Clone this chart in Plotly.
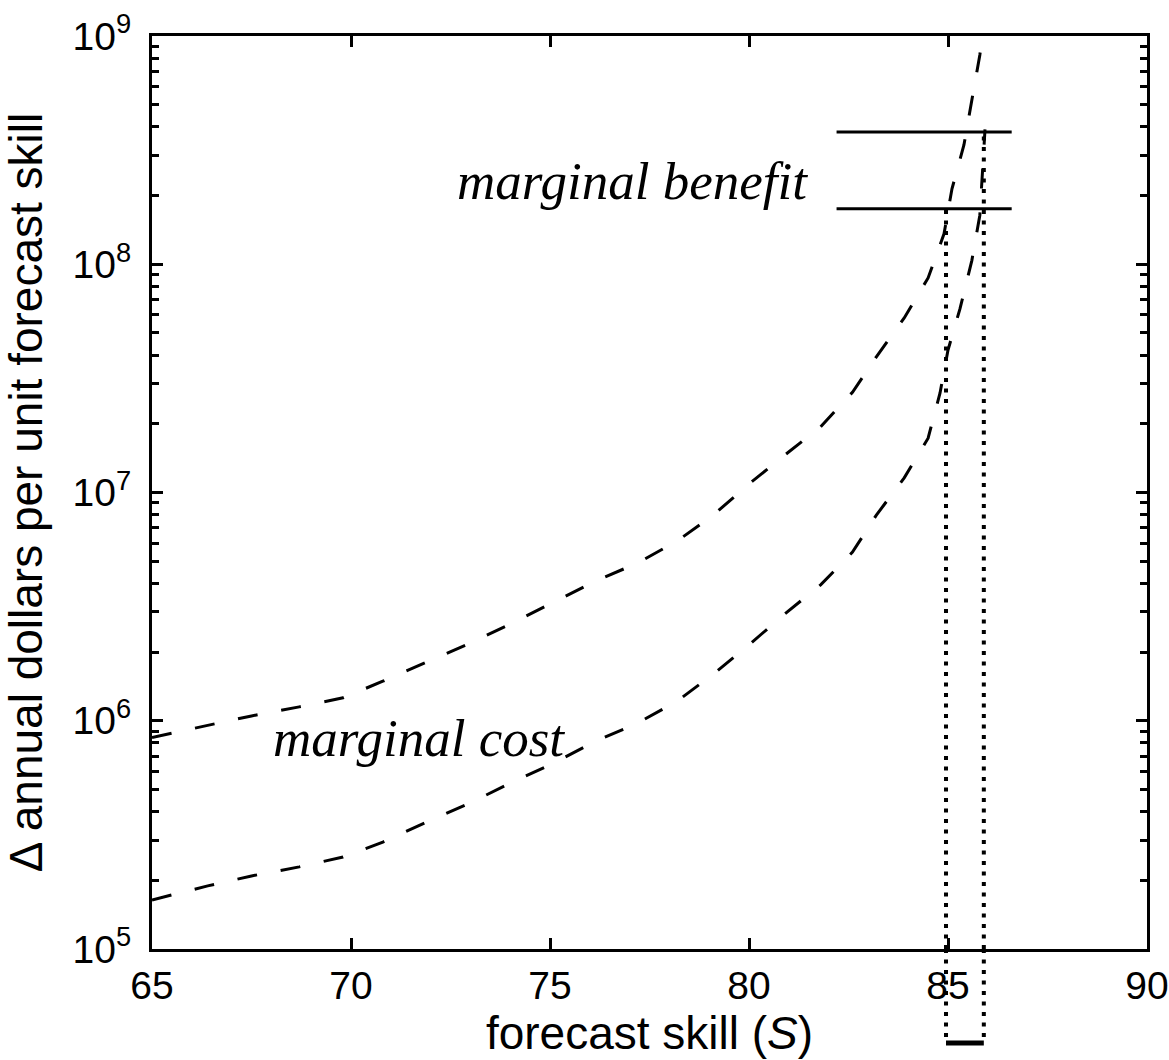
import math
import plotly.graph_objects as go

# Forecast skill S sampled along the two marginal-cost curves
skill_cost_high = [65.0, 65.3, 66.4, 67.5, 68.7, 69.8, 70.8, 71.9, 73.0, 74.0, 75.1, 76.1,
                   77.2, 78.2, 79.1, 80.0, 80.9, 81.8, 82.6, 83.2, 83.9, 84.5, 84.9, 85.1,
                   85.4, 85.6, 85.8, 85.9]
cost_high = [8.45e5, 8.67e5, 9.57e5, 1.05e6, 1.15e6, 1.26e6, 1.49e6, 1.81e6, 2.19e6, 2.65e6,
             3.31e6, 4.06e6, 4.91e6, 6.14e6, 7.96e6, 1.09e7, 1.46e7, 1.94e7, 2.75e7, 3.93e7,
             5.82e7, 8.71e7, 1.36e8, 2.14e8, 3.33e8, 5.25e8, 8.26e8, 1.12e9]

skill_cost_low = [65.0, 65.3, 66.4, 67.5, 68.7, 69.8, 70.8, 71.9, 73.0, 74.0, 75.1, 76.1,
                  77.2, 78.2, 79.1, 80.0, 80.9, 81.8, 82.6, 83.2, 83.9, 84.5, 84.8, 85.0,
                  85.3, 85.6, 85.8, 85.87, 85.93]
cost_low = [1.64e5, 1.69e5, 1.89e5, 2.09e5, 2.29e5, 2.53e5, 2.94e5, 3.60e5, 4.37e5, 5.33e5,
            6.53e5, 8.07e5, 9.77e5, 1.22e6, 1.60e6, 2.15e6, 2.94e6, 3.94e6, 5.48e6, 7.96e6,
            1.16e7, 1.73e7, 2.73e7, 4.21e7, 6.37e7, 1.04e8, 1.64e8, 2.6e8, 3.9e8]

# Marginal benefit band (two horizontal levels)
benefit_skill = [82.2, 86.6]
benefit_levels = [1.75e8, 3.8e8]

# Optimal skill range where the cost curves meet the benefit band
optimal_skill = [84.95, 85.9]

x_ticks = [65, 70, 75, 80, 85, 90]
y_ticks = [1e5, 1e6, 1e7, 1e8, 1e9]
y_ticktext = ["10<sup>5</sup>", "10<sup>6</sup>", "10<sup>7</sup>", "10<sup>8</sup>", "10<sup>9</sup>"]

SANS = "Liberation Sans, Arial, sans-serif"
SERIF = "Liberation Serif, Times New Roman, serif"

fig = go.Figure()

curve_line = dict(color="black", width=3, dash="20px,24px")
fig.add_trace(go.Scatter(x=skill_cost_high, y=cost_high, mode="lines", line=curve_line,
                         showlegend=False, hoverinfo="skip"))
fig.add_trace(go.Scatter(x=skill_cost_low, y=cost_low, mode="lines", line=curve_line,
                         showlegend=False, hoverinfo="skip"))

for level in benefit_levels:
    fig.add_trace(go.Scatter(x=benefit_skill, y=[level, level], mode="lines",
                             line=dict(color="black", width=3),
                             showlegend=False, hoverinfo="skip"))

# Vertical dotted markers: from each intersection down past the x axis
dot = dict(color="black", width=4, dash="4px,6.5px")
for s, level in zip(optimal_skill, benefit_levels):
    fig.add_shape(type="line", xref="x", yref="y", x0=s, x1=s, y0=1e5, y1=level,
                  line=dot, layer="above")
    fig.add_shape(type="line", xref="x", yref="paper", x0=s, x1=s, y0=0, y1=-0.103,
                  line=dot, layer="above")
fig.add_shape(type="line", xref="x", yref="paper", x0=optimal_skill[0], x1=optimal_skill[1],
              y0=-0.103, y1=-0.103, line=dict(color="black", width=5), layer="above")

fig.add_annotation(text="<i>marginal benefit</i>", x=77.08, y=math.log10(2.32e8),
                   xref="x", yref="y", xanchor="center", yanchor="middle", showarrow=False,
                   font=dict(family=SERIF, size=53, color="black"))
fig.add_annotation(text="<i>marginal cost</i>", x=71.7, y=math.log10(8.4e5),
                   xref="x", yref="y", xanchor="center", yanchor="middle", showarrow=False,
                   font=dict(family=SERIF, size=53, color="black"))

axis_common = dict(showline=True, linecolor="black", linewidth=3, mirror="allticks",
                   ticks="inside", ticklen=11, tickwidth=3, tickcolor="black",
                   showgrid=False, zeroline=False, automargin=False,
                   tickfont=dict(family=SANS, size=39, color="black"))

fig.update_xaxes(range=[65, 90], tickvals=x_ticks,
                 title=dict(text="forecast skill (<i>S</i>)", standoff=6,
                            font=dict(family=SANS, size=46, color="black")),
                 ticklabelstandoff=0, **axis_common)
fig.update_yaxes(type="log", range=[5, 9], tickvals=y_ticks, ticktext=y_ticktext,
                 minor=dict(ticks="inside", ticklen=7, tickwidth=3, tickcolor="black",
                            dtick="D1", showgrid=False),
                 title=dict(text="Δ annual dollars per unit forecast skill", standoff=18,
                            font=dict(family=SANS, size=46, color="black")),
                 ticklabelstandoff=10, **axis_common)

fig.update_layout(width=1169, height=1060, margin=dict(l=152, r=22, t=36, b=111),
                  plot_bgcolor="white", paper_bgcolor="white")

fig.write_html("out.html")
